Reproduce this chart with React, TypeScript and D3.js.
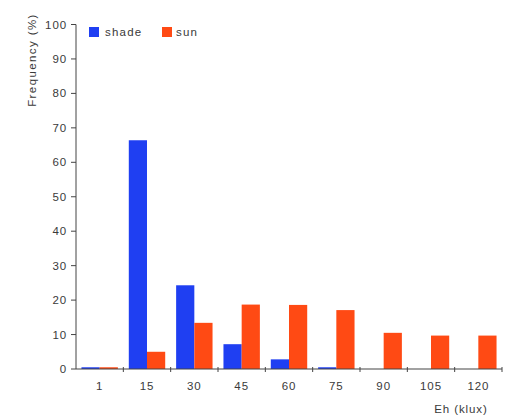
import React from "react";
import * as d3 from "d3";

const categories = ["1", "15", "30", "45", "60", "75", "90", "105", "120"];
const shadeValues = [0.5, 66.4, 24.3, 7.2, 2.8, 0.5, 0, 0, 0];
const sunValues = [0.5, 5.0, 13.4, 18.7, 18.6, 17.1, 10.5, 9.7, 9.7];
const yTicks = [0, 10, 20, 30, 40, 50, 60, 70, 80, 90, 100];
const seriesNames = ["shade", "sun"];
const colors = ["#1f3ff2", "#ff4a14"];

export default function App() {
  const W = 510, H = 416;
  const x0 = 76, x1 = 502, yTop = 24.5, yBot = 369;
  const x = d3.scaleBand<string>().domain(categories).range([x0, x1]).paddingInner(0).paddingOuter(0);
  const xs = d3.scaleBand<string>().domain(seriesNames).range([0, x.bandwidth()]).paddingInner(0).paddingOuter(0.3);
  const y = d3.scaleLinear().domain([0, 100]).range([yBot, yTop]);
  const data = [shadeValues, sunValues];
  const font = "Liberation Sans, Arial, sans-serif";
  const fs = 11.5;
  const ls = 0.9;
  const tc = "#3a3a3a";
  return (
    <svg width={W} height={H} style={{ position: "absolute", left: 0, top: 0 }} fontFamily={font}>
      <rect width={W} height={H} fill="#fff" />
      {data.map((vals, si) =>
        categories.map((c, i) => {
          const v = vals[i];
          if (v <= 0) return null;
          const bx = (x(c) as number) + (xs(seriesNames[si]) as number);
          return (
            <rect key={si + "-" + c} x={bx} y={y(v)} width={xs.bandwidth()} height={yBot - y(v)} fill={colors[si]} />
          );
        })
      )}
      {/* y axis */}
      <line x1={x0} x2={x0} y1={yTop} y2={yBot} stroke="#444" strokeWidth={1} />
      {yTicks.map((t) => (
        <g key={t}>
          <line x1={x0 - 5} x2={x0} y1={y(t)} y2={y(t)} stroke="#444" />
          <text x={x0 - 9} y={y(t)} dy="0.35em" textAnchor="end" fontSize={fs} letterSpacing={ls} fill={tc}>{t}</text>
        </g>
      ))}
      {/* x axis */}
      <line x1={x0} x2={x1} y1={yBot} y2={yBot} stroke="#444" strokeWidth={1.2} />
      {categories.map((c, i) => (
        <g key={c}>
          <line x1={(x(c) as number) + x.bandwidth()} x2={(x(c) as number) + x.bandwidth()} y1={yBot - 2} y2={yBot + 3} stroke="#444" />
          <text x={(x(c) as number) + x.bandwidth() / 2} y={390} textAnchor="middle" fontSize={fs} letterSpacing={ls} fill={tc}>{c}</text>
        </g>
      ))}
      <text x={461} y={413} textAnchor="middle" fontSize={fs} letterSpacing={ls} fill={tc}>Eh (klux)</text>
      <text transform="translate(36,60) rotate(-90)" textAnchor="middle" fontSize={fs} letterSpacing={1.4} fill={tc}>Frequency (%)</text>
      {/* legend */}
      <rect x={89} y={27} width={10} height={10} fill={colors[0]} />
      <text x={105} y={36} fontSize={fs} letterSpacing={1.2} fill={tc}>shade</text>
      <rect x={162} y={27} width={10} height={10} fill={colors[1]} />
      <text x={176} y={36} fontSize={fs} letterSpacing={1.2} fill={tc}>sun</text>
    </svg>
  );
}
